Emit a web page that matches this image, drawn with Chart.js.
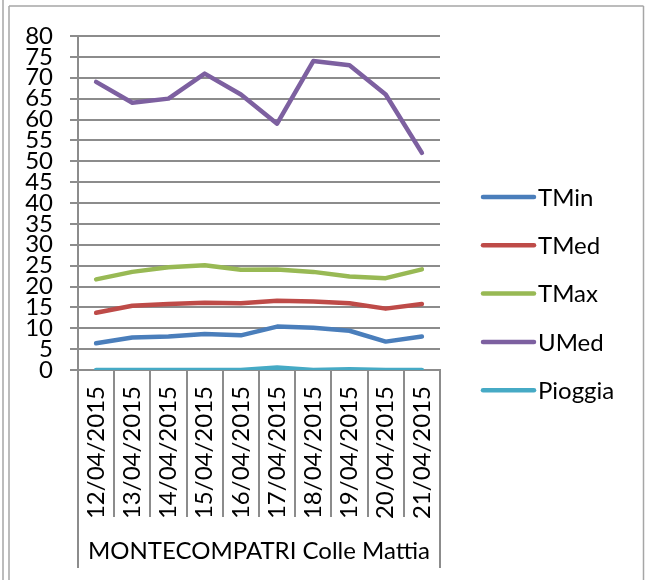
<!DOCTYPE html>
<html>
<head>
<meta charset="utf-8">
<script src="https://cdn.jsdelivr.net/npm/chart.js@4.4.1/dist/chart.umd.min.js"></script>
<style>
  html, body { margin: 0; padding: 0; background: #fff; }
  #wrap { position: relative; width: 646px; height: 580px; }
</style>
</head>
<body>
<div id="wrap"><canvas id="grafico" width="646" height="580"></canvas></div>
<script>
// dati
const giorni  = ['12/04/2015', '13/04/2015', '14/04/2015', '15/04/2015', '16/04/2015',
                 '17/04/2015', '18/04/2015', '19/04/2015', '20/04/2015', '21/04/2015'];
const gruppo  = 'MONTECOMPATRI Colle Mattia'; // etichetta del gruppo sotto le date
const tMin    = [6.4, 7.8, 8.0, 8.6, 8.3, 10.4, 10.1, 9.4, 6.8, 8.0];
const tMed    = [13.7, 15.4, 15.8, 16.1, 16.0, 16.6, 16.4, 16.0, 14.7, 15.8];
const tMax    = [21.7, 23.5, 24.6, 25.1, 24.0, 24.1, 23.5, 22.4, 22.0, 24.1];
const uMed    = [69, 64, 65, 71, 66, 59, 74, 73, 66, 52];
const pioggia = [0, 0, 0, 0, 0, 0.6, 0, 0.2, 0, 0];
const yMin = 0, yMax = 80, yStep = 5; // asse y

const grigio = '#8c8c8c';
const font   = { family: 'Lato', size: 24 };
Chart.defaults.font.family = 'Lato';

const serie = (label, data, color) => ({
  label, data, borderColor: color, backgroundColor: color,
  borderWidth: 4.5, pointRadius: 0, tension: 0,
  borderCapStyle: 'round', borderJoinStyle: 'round'
});

// cornice esterna (doppia linea a sinistra)
const cornice = {
  id: 'cornice',
  beforeDraw(chart){
    const c = chart.ctx;
    c.save();
    c.strokeStyle = '#a6a6a6';
    c.lineWidth = 1.5;
    c.beginPath();
    c.moveTo(3, 0);   c.lineTo(3, 580);
    c.moveTo(9, 6);   c.lineTo(9, 580);
    c.moveTo(9, 6);   c.lineTo(643.5, 6);
    c.moveTo(643.5, 6); c.lineTo(643.5, 580);
    c.stroke();
    c.restore();
  }
};

// riquadro con il nome della stazione sotto le date
const etichettaGruppo = {
  id: 'etichettaGruppo',
  afterDraw(chart){
    const x = chart.scales.x, c = chart.ctx;
    const top = chart.chartArea.bottom + 147, bottom = 568;
    c.save();
    c.strokeStyle = grigio;
    c.lineWidth = 2;
    c.beginPath();
    c.moveTo(x.left, top);  c.lineTo(x.left, bottom);
    c.moveTo(x.right, top); c.lineTo(x.right, bottom);
    c.stroke();
    c.fillStyle = '#000';
    c.font = `${font.size}px ${font.family}`;
    c.textAlign = 'center';
    c.textBaseline = 'middle';
    c.fillText(gruppo, (x.left + x.right) / 2, 551);
    c.restore();
  }
};

// legenda a destra
const legenda = {
  id: 'legenda',
  afterDraw(chart){
    const c = chart.ctx;
    c.save();
    c.font = `${font.size}px ${font.family}`;
    c.textBaseline = 'middle';
    c.textAlign = 'left';
    c.lineCap = 'round';
    chart.data.datasets.forEach((ds, i) => {
      const y = 197 + i * 48.3;
      c.strokeStyle = ds.borderColor;
      c.lineWidth = 4.5;
      c.beginPath(); c.moveTo(483, y); c.lineTo(534, y); c.stroke();
      c.fillStyle = '#000';
      c.fillText(ds.label, 538, y + 1);
    });
    c.restore();
  }
};

new Chart(document.getElementById('grafico'), {
  type: 'line',
  data: {
    labels: giorni,
    datasets: [
      serie('TMin', tMin, '#4a7ebb'),
      serie('TMed', tMed, '#be4b48'),
      serie('TMax', tMax, '#98b954'),
      serie('UMed', uMed, '#7d60a0'),
      serie('Pioggia', pioggia, '#46aac5')
    ]
  },
  options: {
    responsive: false, animation: false, devicePixelRatio: 1,
    layout: { padding: { left: 0, right: 206, top: 36, bottom: 0 } },
    plugins: { legend: { display: false }, tooltip: { enabled: false } },
    scales: {
      x: {
        offset: true,
        grid: { offset: true, drawOnChartArea: false, tickLength: 147, color: grigio, lineWidth: 2 },
        border: { color: grigio, width: 2 },
        ticks: { minRotation: 90, maxRotation: 90, autoSkip: false, padding: -131, color: '#000', font },
        afterFit: s => { s.height = 210; }
      },
      y: {
        min: yMin, max: yMax,
        grid: { color: grigio, lineWidth: 2, tickLength: 8 },
        border: { color: grigio, width: 2 },
        ticks: { stepSize: yStep, autoSkip: false, padding: 17, color: '#000', font, lineHeight: 1 },
        afterFit: s => { s.width = 78; }
      }
    }
  },
  plugins: [cornice, etichettaGruppo, legenda]
});
</script>
</body>
</html>
